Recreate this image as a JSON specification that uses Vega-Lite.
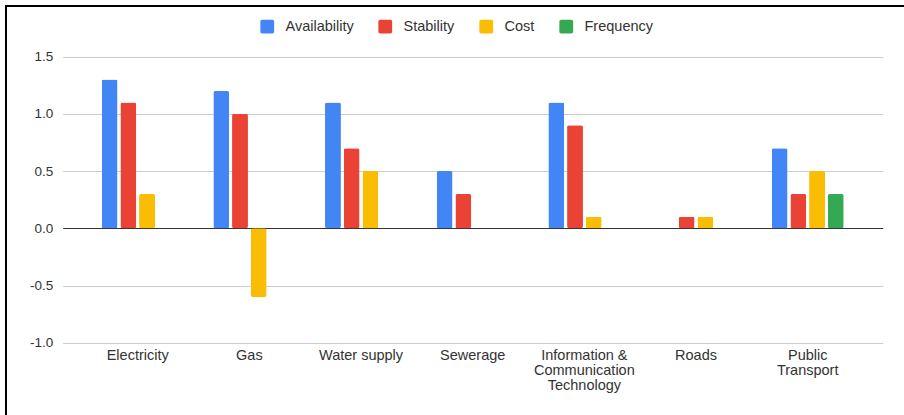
{
  "$schema": "https://vega.github.io/schema/vega-lite/v6.json",
  "autosize": {"type": "none"},
  "width": 900,
  "height": 411,
  "padding": {"left": 6, "top": 6, "right": -2, "bottom": -2},
  "background": "white",
  "config": {
    "view": {"stroke": "#000000", "strokeWidth": 2},
    "font": "Liberation Sans"
  },
  "data": {
    "values": [
      {"category": "Electricity", "metric": "Availability", "value": 1.3},
      {"category": "Electricity", "metric": "Stability", "value": 1.1},
      {"category": "Electricity", "metric": "Cost", "value": 0.3},
      {"category": "Electricity", "metric": "Frequency", "value": 0},
      {"category": "Gas", "metric": "Availability", "value": 1.2},
      {"category": "Gas", "metric": "Stability", "value": 1.0},
      {"category": "Gas", "metric": "Cost", "value": -0.6},
      {"category": "Gas", "metric": "Frequency", "value": 0},
      {"category": "Water supply", "metric": "Availability", "value": 1.1},
      {"category": "Water supply", "metric": "Stability", "value": 0.7},
      {"category": "Water supply", "metric": "Cost", "value": 0.5},
      {"category": "Water supply", "metric": "Frequency", "value": 0},
      {"category": "Sewerage", "metric": "Availability", "value": 0.5},
      {"category": "Sewerage", "metric": "Stability", "value": 0.3},
      {"category": "Sewerage", "metric": "Cost", "value": 0},
      {"category": "Sewerage", "metric": "Frequency", "value": 0},
      {"category": "Information & Communication Technology", "metric": "Availability", "value": 1.1},
      {"category": "Information & Communication Technology", "metric": "Stability", "value": 0.9},
      {"category": "Information & Communication Technology", "metric": "Cost", "value": 0.1},
      {"category": "Information & Communication Technology", "metric": "Frequency", "value": 0},
      {"category": "Roads", "metric": "Availability", "value": 0},
      {"category": "Roads", "metric": "Stability", "value": 0.1},
      {"category": "Roads", "metric": "Cost", "value": 0.1},
      {"category": "Roads", "metric": "Frequency", "value": 0},
      {"category": "Public Transport", "metric": "Availability", "value": 0.7},
      {"category": "Public Transport", "metric": "Stability", "value": 0.3},
      {"category": "Public Transport", "metric": "Cost", "value": 0.5},
      {"category": "Public Transport", "metric": "Frequency", "value": 0.3}
    ]
  },
  "mark": {"type": "bar", "cornerRadius": 2},
  "encoding": {
    "x": {
      "field": "category",
      "type": "nominal",
      "sort": null,
      "scale": {"type": "band", "range": [56.7, 876.7], "paddingInner": 0.355, "paddingOuter": 0.349},
      "axis": {
        "title": null,
        "orient": "bottom",
        "offset": -74.3,
        "domain": false,
        "ticks": false,
        "tickSize": 0,
        "grid": false,
        "labelAngle": 0,
        "labelPadding": 6,
        "labelFontSize": 14.5,
        "labelColor": "#333333",
        "labelLineHeight": 15,
        "labelBaseline": "top",
        "labelLimit": 300,
        "labelExpr": "datum.value == 'Information & Communication Technology' ? ['Information &', 'Communication', 'Technology'] : datum.value == 'Public Transport' ? ['Public', 'Transport'] : datum.value"
      }
    },
    "xOffset": {
      "field": "metric",
      "type": "nominal",
      "sort": ["Availability", "Stability", "Cost", "Frequency"],
      "scale": {"paddingInner": 0.15, "paddingOuter": 0}
    },
    "y": {
      "field": "value",
      "type": "quantitative",
      "scale": {"domain": [-1, 1.5], "range": [336.7, 50.7], "nice": false},
      "axis": {
        "title": null,
        "orient": "left",
        "offset": -56.7,
        "values": [-1, -0.5, 0, 0.5, 1, 1.5],
        "format": ".1f",
        "labelExpr": "replace(datum.label, '\u2212', '-')",
        "domain": false,
        "ticks": false,
        "tickSize": 0,
        "labelPadding": 10,
        "labelFontSize": 13.5,
        "labelColor": "#333333",
        "grid": true,
        "gridColor": {"condition": {"test": "datum.value === 0", "value": "#333333"}, "value": "#cccccc"},
        "gridWidth": 1
      }
    },
    "color": {
      "field": "metric",
      "type": "nominal",
      "sort": ["Availability", "Stability", "Cost", "Frequency"],
      "scale": {
        "domain": ["Availability", "Stability", "Cost", "Frequency"],
        "range": ["#4285F4", "#EA4335", "#FBBC04", "#34A853"]
      },
      "legend": {
        "title": null,
        "orient": "none",
        "direction": "horizontal",
        "legendX": 254,
        "legendY": 13,
        "padding": 0,
        "symbolType": "M -0.75 -1 L 0.75 -1 Q 1 -1 1 -0.75 L 1 0.75 Q 1 1 0.75 1 L -0.75 1 Q -1 1 -1 0.75 L -1 -0.75 Q -1 -1 -0.75 -1 Z",
        "symbolSize": 190,
        "symbolStrokeWidth": 0,
        "labelOffset": 11,
        "columnPadding": 24,
        "labelFontSize": 14.5,
        "labelColor": "#333333"
      }
    }
  }
}
